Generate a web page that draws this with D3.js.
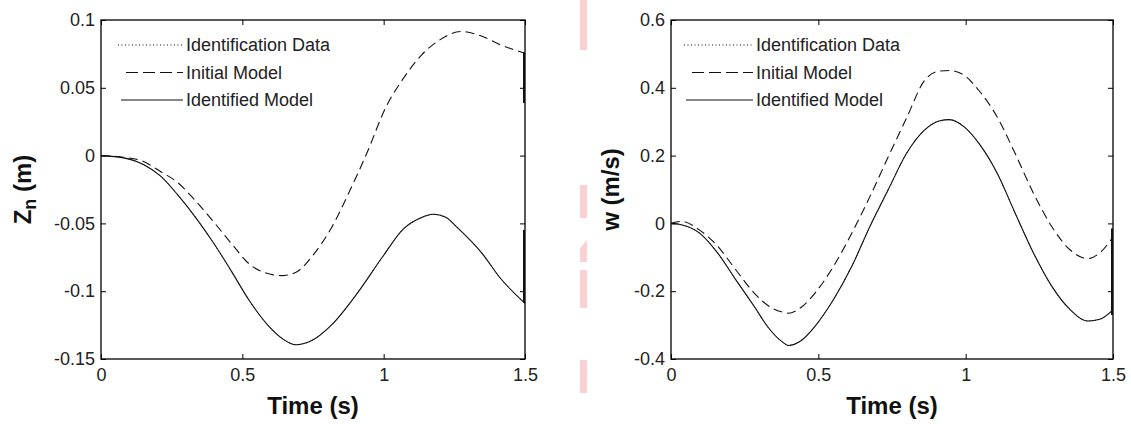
<!DOCTYPE html>
<html><head><meta charset="utf-8">
<script src="https://cdn.jsdelivr.net/npm/d3@7"></script>
<style>
html,body{margin:0;padding:0;background:#fff;}
svg{display:block;}
text{font-family:Arial,"Liberation Sans",sans-serif;}
</style></head>
<body>
<svg id="chart" width="1131" height="424"></svg>
<script>
// ---------- data ----------
const xTicks = [0, 0.5, 1, 1.5];
const xTickLabels = ["0", "0.5", "1", "1.5"];
const legendLabels = ["Identification Data", "Initial Model", "Identified Model"];

// Left panel: Z_n (m)
const zTicks = [0.1, 0.05, 0, -0.05, -0.1, -0.15];
const zTickLabels = ["0.1", "0.05", "0", "-0.05", "-0.1", "-0.15"];
const zTime = [0, 0.08, 0.15, 0.21, 0.27, 0.335, 0.4, 0.46, 0.525, 0.59, 0.645, 0.69, 0.74, 0.815, 0.905, 0.995, 1.07, 1.13, 1.175, 1.22, 1.26, 1.35, 1.41, 1.5];
const zIdentified = [0, -0.0017, -0.0066, -0.015, -0.0286, -0.0457, -0.065, -0.0848, -0.107, -0.125, -0.1355, -0.1395, -0.137, -0.125, -0.102, -0.075, -0.054, -0.046, -0.0432, -0.0455, -0.053, -0.0726, -0.0897, -0.109];
const zInitialTime = [0, 0.08, 0.146, 0.209, 0.272, 0.335, 0.399, 0.462, 0.525, 0.6, 0.64, 0.69, 0.753, 0.816, 0.88, 0.943, 1.006, 1.07, 1.133, 1.196, 1.275, 1.348, 1.41, 1.5];
const zInitial = [0, -0.0012, -0.004, -0.0115, -0.020, -0.0335, -0.049, -0.065, -0.080, -0.0875, -0.0885, -0.086, -0.0726, -0.053, -0.026, 0.003, 0.035, 0.057, 0.074, 0.085, 0.0915, 0.088, 0.082, 0.0755];
// identification data ends with a vertical jump at t = 1.5
const zDataEnd = [[0.0764, 0.0388], [-0.0549, -0.1087]];

// Right panel: w (m/s)
const wTicks = [0.6, 0.4, 0.2, 0, -0.2, -0.4];
const wTickLabels = ["0.6", "0.4", "0.2", "0", "-0.2", "-0.4"];
const wTime = [0, 0.035, 0.096, 0.158, 0.219, 0.281, 0.33, 0.38, 0.398, 0.441, 0.49, 0.552, 0.614, 0.675, 0.737, 0.799, 0.86, 0.91, 0.945, 0.996, 1.045, 1.107, 1.168, 1.23, 1.292, 1.353, 1.415, 1.455, 1.5];
const wIdentified = [0, -0.004, -0.028, -0.087, -0.165, -0.243, -0.307, -0.351, -0.36, -0.346, -0.302, -0.224, -0.126, -0.009, 0.099, 0.206, 0.275, 0.302, 0.306, 0.284, 0.236, 0.148, 0.030, -0.087, -0.185, -0.253, -0.288, -0.283, -0.255];
const wInitial = [0, 0.006, -0.019, -0.067, -0.136, -0.204, -0.243, -0.262, -0.265, -0.248, -0.204, -0.126, -0.028, 0.079, 0.196, 0.31, 0.421, 0.449, 0.451, 0.436, 0.392, 0.314, 0.206, 0.089, -0.009, -0.077, -0.104, -0.087, -0.04];
const wDataEnd = [[-0.015, -0.27], [-0.02, -0.06]];

// ---------- drawing ----------
const svg = d3.select("#chart");

// faint watermark strokes between the panels
const wm = svg.append("g").attr("fill", "#fbd0d0");
[[0, 50], [185, 218], [360, 393]].forEach(([a, b]) => {
  wm.append("rect").attr("x", 580).attr("y", a).attr("width", 7).attr("height", b - a);
});
wm.append("path").attr("d", "M580,248 L587,240 L587,262 L580,262 Z");
wm.append("rect").attr("x", 580).attr("y", 270).attr("width", 7).attr("height", 38);

function panel(cfg) {
  const g = svg.append("g");
  const x = d3.scaleLinear().domain([0, 1.5]).range([cfg.left, cfg.right]);
  const y = d3.scaleLinear().domain(cfg.yDomain).range([cfg.bottom, cfg.top]);

  // axes with inward ticks
  const fmtX = (d, i) => xTickLabels[i];
  const fmtY = (d, i) => cfg.yLabels[i];
  const ax = [
    g.append("g").attr("transform", `translate(0,${cfg.bottom})`)
      .call(d3.axisBottom(x).tickValues(xTicks).tickFormat(fmtX).tickSizeInner(-5).tickSizeOuter(0).tickPadding(9)),
    g.append("g").attr("transform", `translate(0,${cfg.top})`)
      .call(d3.axisTop(x).tickValues(xTicks).tickFormat("").tickSizeInner(-5).tickSizeOuter(0)),
    g.append("g").attr("transform", `translate(${cfg.left},0)`)
      .call(d3.axisLeft(y).tickValues(cfg.yTicks).tickFormat(fmtY).tickSizeInner(-5).tickSizeOuter(0).tickPadding(6)),
    g.append("g").attr("transform", `translate(${cfg.right},0)`)
      .call(d3.axisRight(y).tickValues(cfg.yTicks).tickFormat("").tickSizeInner(-5).tickSizeOuter(0))
  ];
  ax.forEach(a => {
    a.select(".domain").remove();
    a.selectAll("line").attr("stroke", "#000");
    a.selectAll("text").attr("font-size", 18).attr("fill", "#222")
      .attr("font-family", "Arial, 'Liberation Sans', sans-serif");
  });
  g.append("rect").attr("x", cfg.left).attr("y", cfg.top)
    .attr("width", cfg.right - cfg.left).attr("height", cfg.bottom - cfg.top)
    .attr("fill", "none").attr("stroke", "#000").attr("stroke-width", 1.3);

  const clip = "clip" + cfg.id;
  svg.append("clipPath").attr("id", clip).append("rect")
    .attr("x", cfg.left - 1).attr("y", cfg.top).attr("width", cfg.right - cfg.left + 2).attr("height", cfg.bottom - cfg.top);
  const plot = g.append("g").attr("clip-path", `url(#${clip})`);

  const line = d3.line().x(d => x(d[0])).y(d => y(d[1])).curve(d3.curveMonotoneX);
  const ini = cfg.initialTime.map((t, i) => [t, cfg.initial[i]]);
  const idm = cfg.time.map((t, i) => [t, cfg.identified[i]]);

  plot.append("path").attr("d", line(ini)).attr("fill", "none").attr("stroke", "#111")
    .attr("stroke-width", 1.1).attr("stroke-dasharray", "9,5");
  plot.append("path").attr("d", line(idm)).attr("fill", "none").attr("stroke", "#111")
    .attr("stroke-width", 1.1);
  plot.append("path").attr("d", line(idm)).attr("fill", "none").attr("stroke", "#111")
    .attr("stroke-width", 1).attr("stroke-dasharray", "1,2");
  cfg.dataEnd.forEach(seg => {
    plot.append("line").attr("x1", x(1.5) - 1).attr("x2", x(1.5) - 1)
      .attr("y1", y(seg[0])).attr("y2", y(seg[1])).attr("stroke", "#111").attr("stroke-width", 2);
  });

  // legend (no box)
  const styles = ["1,2.5", "12,5", null];
  const lg = g.append("g");
  legendLabels.forEach((lab, i) => {
    const yy = cfg.top + 25 + i * 27.5;
    const l = lg.append("line").attr("x1", cfg.left + cfg.legX0[i]).attr("x2", cfg.left + 82)
      .attr("y1", yy).attr("y2", yy).attr("stroke", "#111").attr("stroke-width", 1.1);
    if (styles[i]) l.attr("stroke-dasharray", styles[i]);
    lg.append("text").attr("x", cfg.left + 85).attr("y", yy).attr("dy", "0.36em")
      .attr("font-size", 18).attr("fill", "#222").text(lab);
  });

  // axis titles
  g.append("text").attr("x", (cfg.left + cfg.right) / 2).attr("y", 414)
    .attr("text-anchor", "middle").attr("font-weight", "bold").attr("font-size", 24)
    .attr("fill", "#111").text("Time (s)");
  const yt = g.append("text")
    .attr("transform", `translate(${cfg.left - cfg.yTitleOff},${(cfg.top + cfg.bottom) / 2}) rotate(-90)`)
    .attr("text-anchor", "middle").attr("font-weight", "bold").attr("font-size", 24).attr("fill", "#111");
  cfg.yTitle(yt);
}

panel({
  id: "L", left: 101, right: 525, top: 20, bottom: 359,
  yDomain: [-0.15, 0.1], yTicks: zTicks, yLabels: zTickLabels,
  time: zTime, identified: zIdentified, initialTime: zInitialTime, initial: zInitial,
  dataEnd: zDataEnd, legX0: [17, 25, 20], yTitleOff: 70,
  yTitle: t => {
    t.append("tspan").text("Z");
    t.append("tspan").attr("baseline-shift", "-25%").attr("font-size", 18).text("n");
    t.append("tspan").text(" (m)");
  }
});
panel({
  id: "R", left: 671, right: 1113, top: 20, bottom: 359,
  yDomain: [-0.4, 0.6], yTicks: wTicks, yLabels: wTickLabels,
  time: wTime, identified: wIdentified, initialTime: wTime, initial: wInitial,
  dataEnd: wDataEnd, legX0: [13, 21, 15], yTitleOff: 52,
  yTitle: t => { t.text("w (m/s)"); }
});
</script>
</body></html>
